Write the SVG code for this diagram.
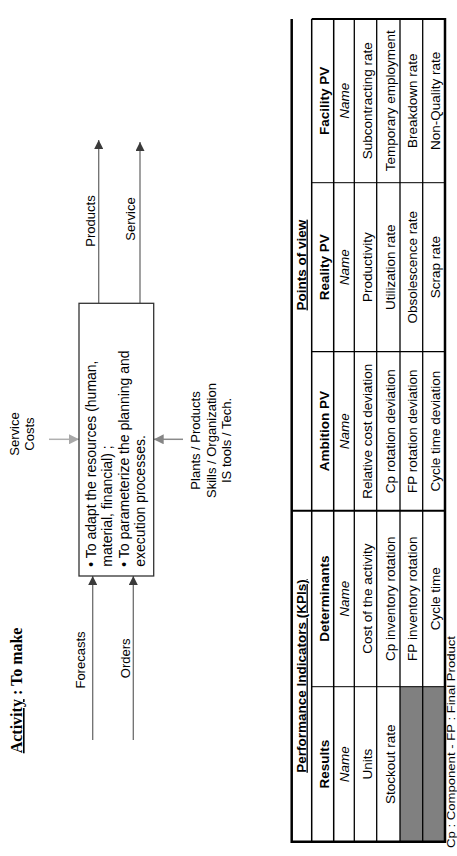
<svg xmlns="http://www.w3.org/2000/svg" width="457" height="856" viewBox="0 0 457 856">
<style>
.t{font-family:"Liberation Sans",Arial,Helvetica,sans-serif;fill:#000}
.lbl{font-size:13px}
.mid{text-anchor:middle}
.cell{font-size:13.5px;text-anchor:middle}
.b{font-weight:bold}
.i{font-style:italic}
.box{fill:#fff;stroke:#333;stroke-width:1.3}
.flow{stroke:#6e6e6e;stroke-width:1.3;fill:none}
.ctl{stroke:#b0b0b0;stroke-width:1.5;fill:none}
.mech{stroke:#8a8a8a;stroke-width:1.5;fill:none}
.g{stroke:#000;fill:none}
</style>
<defs>
<marker id="ahd" markerUnits="userSpaceOnUse" markerWidth="9" markerHeight="9" refX="9" refY="4.5" orient="auto"><path d="M0,0 L9,4.5 L0,9 z" fill="#3a3a3a"/></marker>
<marker id="ahc" markerUnits="userSpaceOnUse" markerWidth="10" markerHeight="10" refX="10" refY="5" orient="auto"><path d="M0,0 L10,5 L0,10 z" fill="#a8a8a8"/></marker>
<marker id="ahm" markerUnits="userSpaceOnUse" markerWidth="10" markerHeight="10" refX="10" refY="5" orient="auto"><path d="M0,0 L10,5 L0,10 z" fill="#858585"/></marker>
</defs>
<rect width="457" height="856" fill="#fff"/>
<g transform="translate(0,856) rotate(-90)">
  <g id="title">
    <text class="b" x="102.7" y="22" style="font-family:'Liberation Serif','Times New Roman',serif;font-size:16px"><tspan text-decoration="underline">Activity</tspan> : To make</text>
  </g>
  <g id="connectors">
    <line class="flow" x1="116" y1="92.7" x2="280" y2="92.7" marker-end="url(#ahd)"/>
    <line class="flow" x1="116" y1="133.3" x2="280" y2="133.3" marker-end="url(#ahd)"/>
    <line class="flow" x1="552.7" y1="98.7" x2="716" y2="98.7" marker-end="url(#ahd)"/>
    <line class="flow" x1="552.7" y1="140" x2="714" y2="140" marker-end="url(#ahd)"/>
    <line class="ctl" x1="416.7" y1="49" x2="416.7" y2="79" marker-end="url(#ahc)"/>
    <line class="mech" x1="416.7" y1="183" x2="416.7" y2="153.7" marker-end="url(#ahm)"/>
    <text class="t lbl mid" x="196" y="85">Forecasts</text>
    <text class="t lbl mid" x="197.7" y="129.5">Orders</text>
    <text class="t lbl mid" x="635" y="94.5">Products</text>
    <text class="t lbl mid" x="637" y="135">Service</text>
  </g>
  <g id="control">
    <text class="t lbl mid" x="422" y="19.3">Service</text>
    <text class="t lbl mid" x="422" y="33.5">Costs</text>
  </g>
  <g id="mechanism">
    <text class="t lbl mid" x="415.5" y="200">Plants / Products</text>
    <text class="t lbl mid" x="415.5" y="215.5">Skills / Organization</text>
    <text class="t lbl mid" x="415.5" y="231">IS tools / Tech.</text>
  </g>
  <g id="activity-box">
    <rect class="box" x="280" y="79" width="272.7" height="74.7"/>
    <text class="t" style="font-size:14px" x="289.3" y="95.5">• To adapt the resources (human,</text>
    <text class="t" style="font-size:14px" x="289.3" y="112">material, financial) ;</text>
    <text class="t" style="font-size:14px" x="289.3" y="128.5">• To parameterize the planning and</text>
    <text class="t" style="font-size:14px" x="289.3" y="145">execution processes.</text>
  </g>
  <g id="kpi-table">
    <rect x="14.3" y="400" width="155" height="45" fill="#808080"/>
    <line class="g" stroke-width="1.5" x1="14.3" y1="311.7" x2="837" y2="311.7"/>
    <line class="g" stroke-width="1.5" x1="14.3" y1="333.7" x2="837" y2="333.7"/>
    <line class="g" stroke-width="1.3" x1="14.3" y1="354.3" x2="837" y2="354.3"/>
    <line class="g" stroke-width="1.3" x1="14.3" y1="376.7" x2="837" y2="376.7"/>
    <line class="g" stroke-width="1.3" x1="14.3" y1="400" x2="837" y2="400"/>
    <line class="g" stroke-width="1.3" x1="14.3" y1="422.7" x2="837" y2="422.7"/>
    <line class="g" stroke-width="1" x1="169.3" y1="311.7" x2="169.3" y2="445"/>
    <line class="g" stroke-width="2" x1="345.3" y1="291.7" x2="345.3" y2="445"/>
    <line class="g" stroke-width="1.2" x1="504.3" y1="311.7" x2="504.3" y2="445"/>
    <line class="g" stroke-width="1" x1="673.3" y1="311.7" x2="673.3" y2="445"/>
    <line class="g" stroke-width="2.5" x1="13" y1="291.7" x2="837" y2="291.7"/>
    <line class="g" stroke-width="2.5" x1="13" y1="445" x2="838" y2="445"/>
    <line class="g" stroke-width="2.5" x1="14.3" y1="291.7" x2="14.3" y2="445"/>
    <line class="g" stroke-width="2" x1="837" y1="311.7" x2="837" y2="445"/>
    <text class="t cell b" x="180" y="305.5"><tspan text-decoration="underline">Performance Indicators (KPIs)</tspan></text>
    <text class="t cell b" x="591" y="305.5"><tspan text-decoration="underline">Points of view</tspan></text>
    <text class="t cell b" x="91.8" y="328.5">Results</text>
    <text class="t cell b" x="257.3" y="328.5">Determinants</text>
    <text class="t cell b" x="424.8" y="328.5">Ambition PV</text>
    <text class="t cell b" x="588.8" y="328.5">Reality PV</text>
    <text class="t cell b" x="755.2" y="328.5">Facility PV</text>
    <text class="t cell i" x="91.8" y="348.5">Name</text>
    <text class="t cell i" x="257.3" y="348.5">Name</text>
    <text class="t cell i" x="424.8" y="348.5">Name</text>
    <text class="t cell i" x="588.8" y="348.5">Name</text>
    <text class="t cell i" x="755.2" y="348.5">Name</text>
    <text class="t cell" x="91.8" y="371.5">Units</text>
    <text class="t cell" x="257.3" y="371.5">Cost of the activity</text>
    <text class="t cell" x="424.8" y="371.5">Relative cost deviation</text>
    <text class="t cell" x="588.8" y="371.5">Productivity</text>
    <text class="t cell" x="755.2" y="371.5">Subcontracting rate</text>
    <text class="t cell" x="91.8" y="394.5">Stockout rate</text>
    <text class="t cell" x="257.3" y="394.5">Cp inventory rotation</text>
    <text class="t cell" x="424.8" y="394.5">Cp rotation deviation</text>
    <text class="t cell" x="588.8" y="394.5">Utilization rate</text>
    <text class="t cell" x="755.2" y="394.5">Temporary employment</text>
    <text class="t cell" x="257.3" y="417">FP inventory rotation</text>
    <text class="t cell" x="424.8" y="417">FP rotation deviation</text>
    <text class="t cell" x="588.8" y="417">Obsolescence rate</text>
    <text class="t cell" x="755.2" y="417">Breakdown rate</text>
    <text class="t cell" x="257.3" y="439.5">Cycle time</text>
    <text class="t cell" x="424.8" y="439.5">Cycle time deviation</text>
    <text class="t cell" x="588.8" y="439.5">Scrap rate</text>
    <text class="t cell" x="755.2" y="439.5">Non-Quality rate</text>
  </g>
  <g id="footnote">
    <text class="t" style="font-size:11px" x="8" y="454.5" textLength="212" lengthAdjust="spacingAndGlyphs">Cp : Component - FP : Final Product</text>
  </g>
</g>
</svg>
